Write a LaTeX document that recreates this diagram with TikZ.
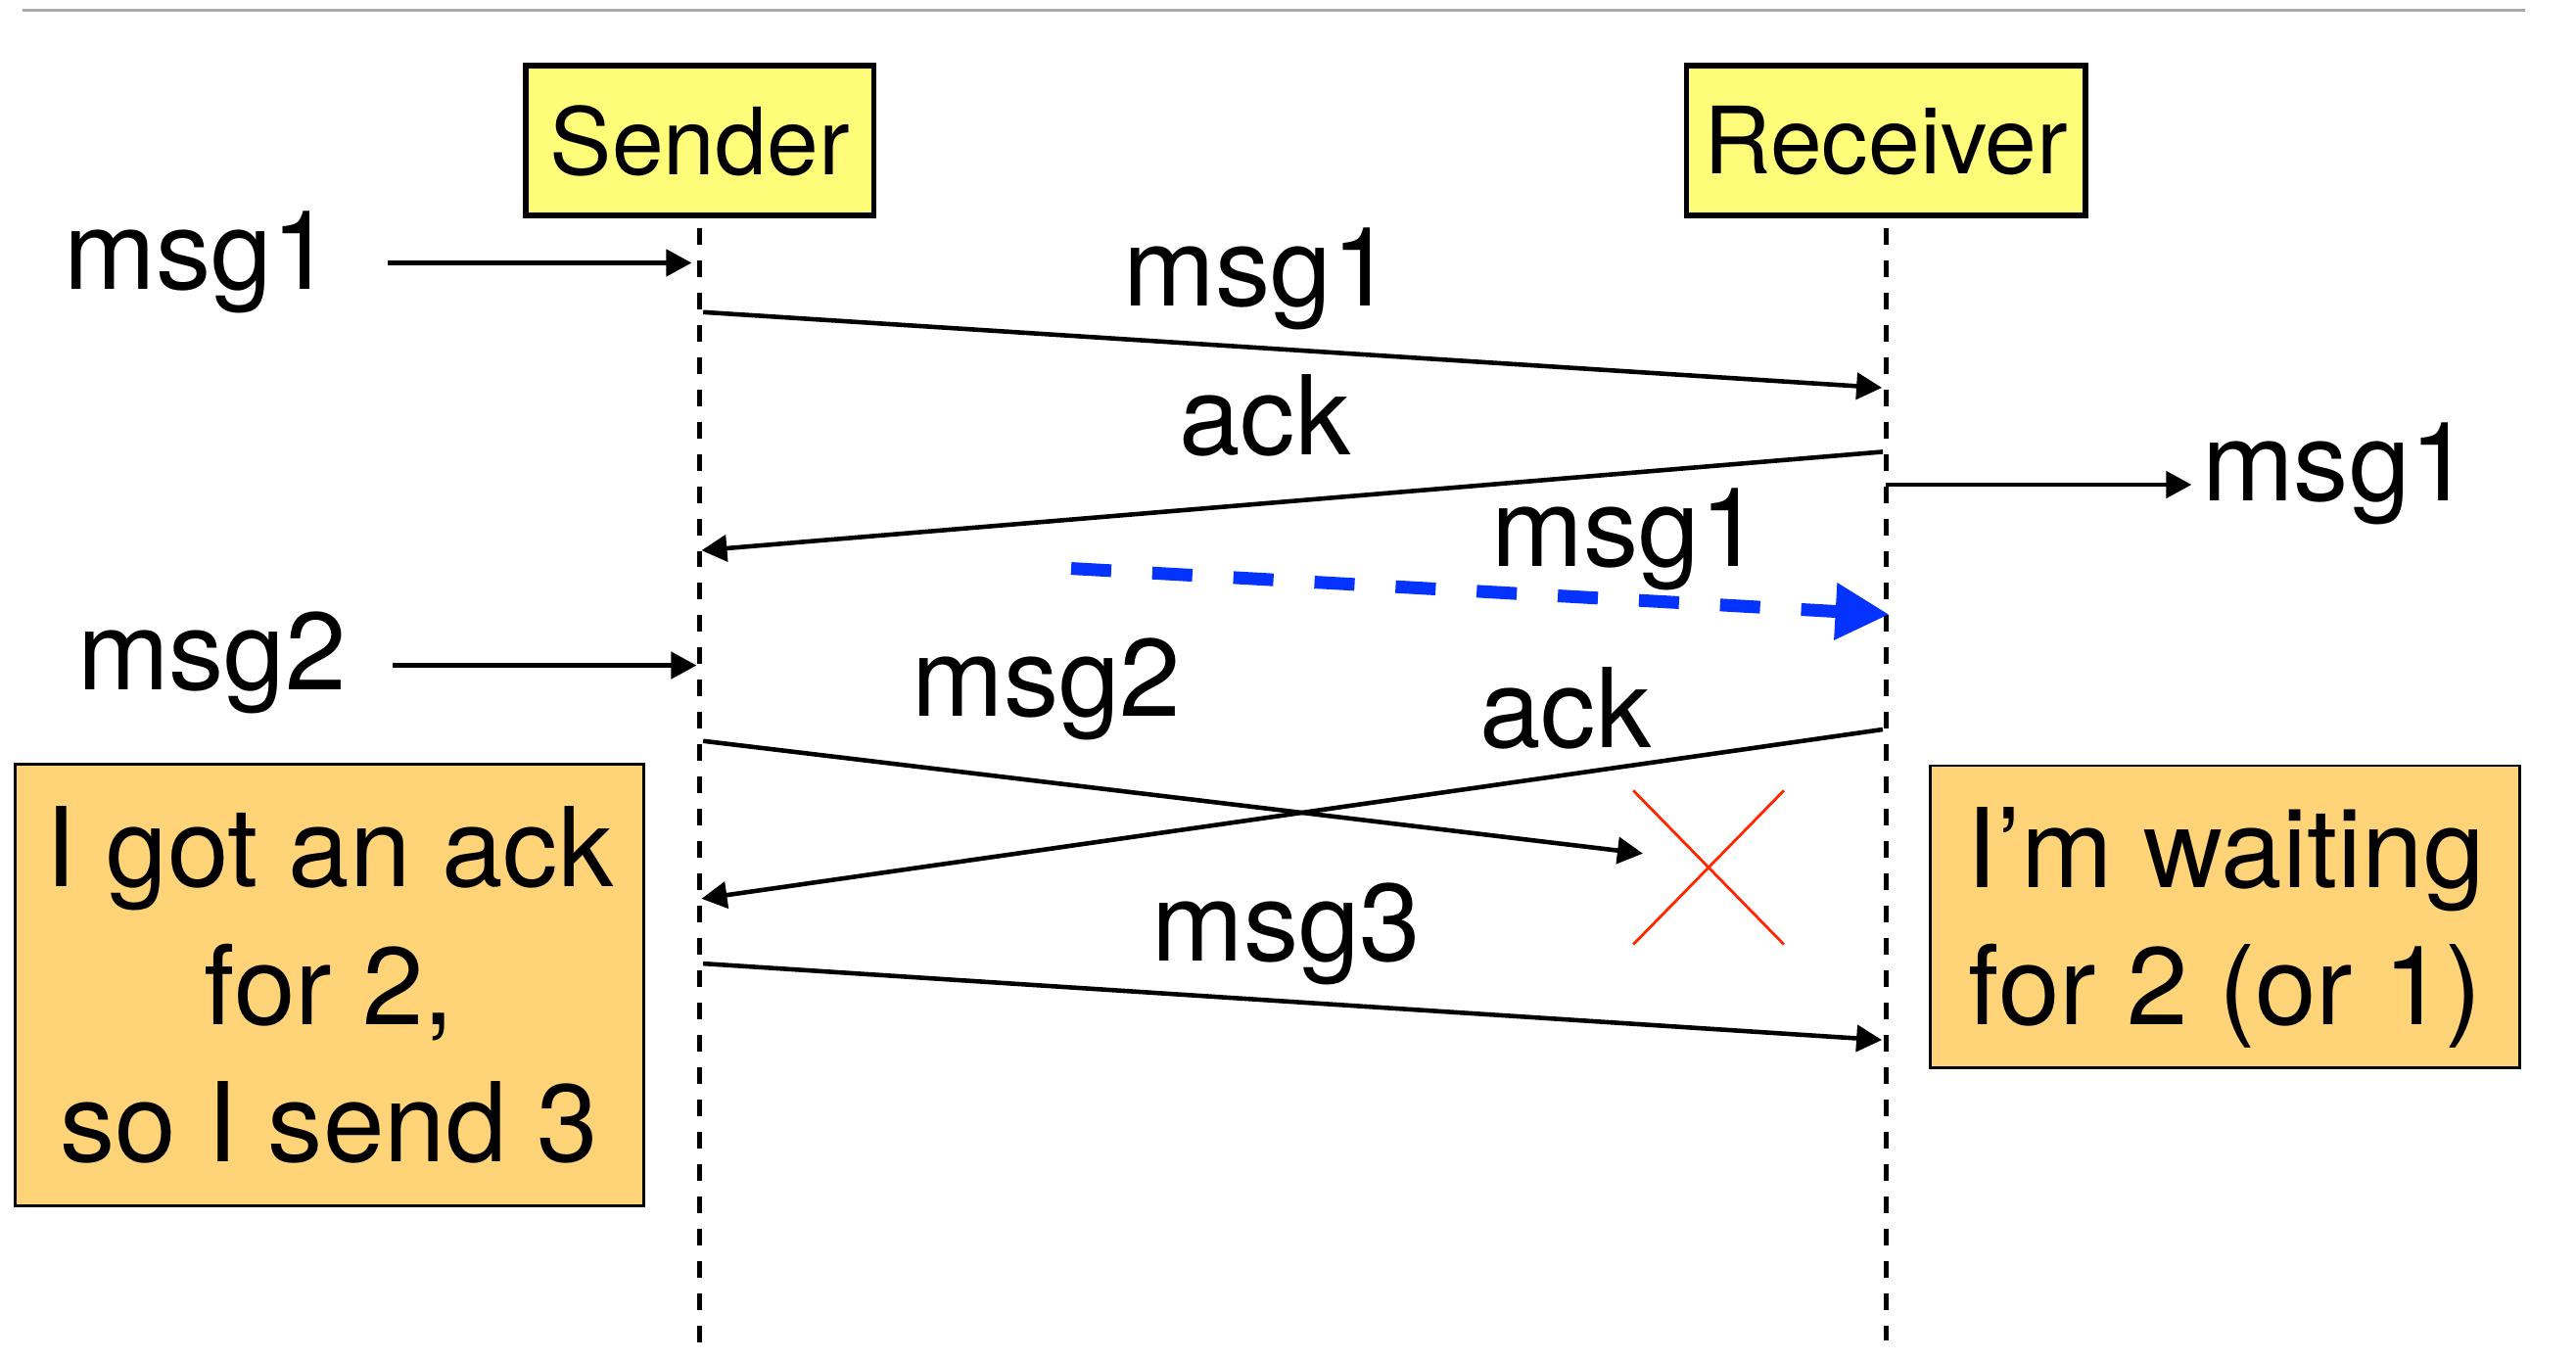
\documentclass[tikz,border=0pt]{standalone}
\usepackage{fontspec}
\setmainfont{TeX Gyre Heros}
\usetikzlibrary{arrows.meta,shapes.misc}
\definecolor{banana}{RGB}{255,252,121}
\definecolor{cantaloupe}{RGB}{255,212,121}
\definecolor{blueberry}{RGB}{4,51,255}
\definecolor{maraschino}{RGB}{255,38,0}
\definecolor{rulegray}{RGB}{168,168,168}
\def \MsgFont {\fontsize{32}{40}\selectfont}
\tikzstyle{actor}=[
  draw=black,
  line width=1.6pt,
  fill=banana,
  inner sep=0pt,
  minimum height=1.527cm,
  font=\fontsize{27}{32}\selectfont
]
\tikzstyle{lifeline}=[line width=1.4pt, dash pattern=on 0.17cm off 0.16cm]
\tikzstyle{msg}=[line width=1.3pt, -{Triangle[length=0.26cm,width=0.27cm]}]
\tikzstyle{retry}=[line width=3.7pt, blueberry, dash pattern=on 0.41cm off 0.42cm, -{Triangle[length=0.55cm,width=0.55cm]}]
\tikzstyle{msgtext}=[inner sep=0pt, anchor=base, font=\MsgFont]
\tikzstyle{note}=[
  draw=black,
  line width=0.8pt,
  fill=cantaloupe,
  align=center,
  font=\MsgFont
]

\begin{document}
\begin{tikzpicture}[x=0.016779cm, y=-0.016779cm]
          \def \sx {426}
          \def \rx {1148}

          \useasboundingbox (0,0) rectangle (1568,828);
          \draw[rulegray, line width=0.85pt] (14,6) -- (1537,6);

          \node[actor, minimum width=3.557cm] (sender) at (\sx, 85.5) {Sender};
          \node[actor, minimum width=4.077cm] (receiver) at (\rx, 85.5) {Receiver};

          \coordinate (sEnd) at (\sx, 821);
          \coordinate (rEnd) at (\rx, 816);
          \draw[lifeline] ([yshift=-0.1cm]sender.south) -- (sEnd);
          \draw[lifeline] ([yshift=-0.1cm]receiver.south) -- (rEnd);

          \node[msgtext] (m1in) at (121, 176) {msg1};
          \node[msgtext] (m1) at (766, 186) {msg1};
          \node[msgtext] (a1) at (770, 277) {ack};
          \node[msgtext, anchor=base west] (m1out) at (1340, 305) {msg1};
          \node[msgtext] (m1re) at (990, 345) {msg1};
          \node[msgtext] (m2in) at (129, 420) {msg2};
          \node[msgtext] (m2) at (637, 436) {msg2};
          \node[msgtext] (a2) at (953, 455) {ack};
          \node[msgtext] (m3) at (783, 585) {msg3};

          \coordinate (x1) at (236, 160);
          \coordinate (y1) at (\sx-5, 160);
          \coordinate (x2) at (\sx+2, 190);
          \coordinate (y2) at (\rx-2.5, 236);
          \coordinate (x3) at (\rx-2, 275);
          \coordinate (y3) at (\sx+1, 335);
          \coordinate (x4) at (\rx, 295);
          \coordinate (y4) at (1334, 295);
          \coordinate (x5) at (652, 346);
          \coordinate (y5) at (\rx+2, 374);
          \coordinate (x6) at (239, 405);
          \coordinate (y6) at (\sx-2, 405);
          \coordinate (x7) at (\sx+2, 451);
          \coordinate (y7) at (1000, 519.5);
          \coordinate (x8) at (\rx-2, 444);
          \coordinate (y8) at (\sx+1, 547);
          \coordinate (x9) at (\sx+2, 586.5);
          \coordinate (y9) at (\rx-2.5, 633);

          \foreach \i in {1,2,3,4,6,7,8,9}{
            \draw[msg] (x\i) -- (y\i);
          }
          \draw[retry] (x5) -- (y5);

          \node[cross out, draw=maraschino, line width=0.8pt, inner sep=0pt,
                minimum width=1.51cm, minimum height=1.544cm] (lost) at (1040, 528) {};

          \node[note, minimum width=6.426cm, minimum height=4.514cm] (gotack) at (200.5, 599.5)
               {I got an ack\\for 2,\\so I send 3};
          \node[note, minimum width=6.024cm, minimum height=3.087cm] (waiting) at (1354.5, 558)
               {I’m waiting\\for 2 \smash{(or 1)}};
\end{tikzpicture}
\end{document}
